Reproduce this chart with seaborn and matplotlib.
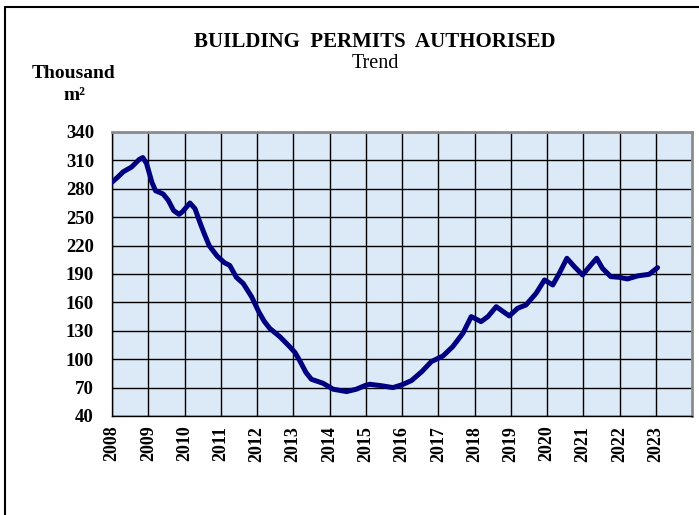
import matplotlib
matplotlib.use("Agg")
import matplotlib.pyplot as plt
import seaborn as sns
import numpy as np
import pandas as pd
from matplotlib.ticker import MultipleLocator
from matplotlib.lines import Line2D

# values (decimal year, thousand m2)
years = [2008.00, 2008.15, 2008.31, 2008.54, 2008.75, 2008.85, 2008.95, 2009.10, 2009.20,
         2009.41, 2009.55, 2009.70, 2009.85, 2009.95, 2010.15, 2010.29, 2010.42, 2010.52,
         2010.68, 2010.90, 2011.10, 2011.25, 2011.43, 2011.62, 2011.85, 2012.05, 2012.20,
         2012.35, 2012.63, 2012.90, 2013.05, 2013.20, 2013.35, 2013.50, 2013.82, 2014.10,
         2014.47, 2014.74, 2015.00, 2015.11, 2015.43, 2015.75, 2016.00, 2016.26, 2016.55,
         2016.81, 2017.13, 2017.40, 2017.68, 2017.91, 2018.18, 2018.37, 2018.60, 2018.96,
         2019.19, 2019.42, 2019.70, 2019.93, 2020.16, 2020.34, 2020.55, 2020.75, 2020.98,
         2021.17, 2021.37, 2021.53, 2021.76, 2021.99, 2022.22, 2022.50, 2022.82, 2023.05]
permits = [287, 292, 298, 303, 311, 313, 307, 287, 278,
           274.5, 268, 257, 253, 256, 265, 259, 245, 235,
           220, 209, 202, 199, 186.5, 180, 166, 150, 140,
           132.6, 123.8, 113.3, 107, 97, 86, 78.8, 74.6, 68.3,
           65.8, 68.3, 72.5, 73.5, 72, 70, 73, 77.4, 87,
           97.5, 103.4, 113.3, 127.4, 145, 139.7, 145, 155.5, 145.7,
           153.8, 157.3, 169.6, 183.7, 178.4, 190.8, 206.6, 198, 189,
           197.7, 206.6, 196, 187.2, 186.5, 184.8, 188, 189.7, 196.7]
year_labels = [str(y) for y in range(2008, 2024)]
y_ticks = list(range(40, 341, 30))

df = pd.DataFrame({"year": years, "permits": permits})

sns.set_style("white")
plt.rcParams['font.family'] = ['Liberation Serif', 'DejaVu Serif']
plt.rcParams['text.color'] = 'black'
plt.rcParams['xtick.color'] = 'black'
plt.rcParams['ytick.color'] = 'black'

fig = plt.figure(figsize=(6.99, 5.15), dpi=100)
ax = fig.add_axes([112/699, 1 - 416/515, 580/699, 284/515])
ax.set_facecolor("#dce9f7")

sns.lineplot(data=df, x="year", y="permits", ax=ax, color="#000080", linewidth=3.6,
             solid_joinstyle="round", solid_capstyle="round", zorder=5)

ax.set_xlim(2008, 2024)
ax.set_ylim(40, 340)
ax.set_xticks(range(2008, 2024))
ax.set_xticklabels(year_labels, rotation=90, fontweight="bold", fontsize=13)
ax.xaxis.set_minor_locator(MultipleLocator(0.5))
ax.set_yticks(y_ticks)
ax.set_yticklabels([str(v) for v in y_ticks], fontweight="bold", fontsize=13.5)
ax.grid(True, which="major", color="black", linewidth=1)
ax.set_axisbelow(True)
ax.tick_params(axis="x", which="major", direction="out", length=5, width=1, pad=2)
ax.tick_params(axis="y", which="major", direction="out", length=5, width=1, pad=8)
ax.tick_params(axis="x", which="minor", direction="in", length=4, width=1)
ax.set_xlabel("")
ax.set_ylabel("")

for s in ["top", "right"]:
    ax.spines[s].set_color("#8c8c8c")
    ax.spines[s].set_linewidth(2)
for s in ["left", "bottom"]:
    ax.spines[s].set_color("black")
    ax.spines[s].set_linewidth(1)

fig.text(375/699, 1 - 42/515, "BUILDING  PERMITS  AUTHORISED", ha="center", va="center",
         fontsize=15, fontweight="bold")
fig.text(375/699, 1 - 64/515, "Trend", ha="center", va="center", fontsize=14.5)
fig.text(74/699, 1 - 73/515, "Thousand", ha="center", va="center", fontsize=14, fontweight="bold")
fig.text(74/699, 1 - 96/515, "m\u00b2", ha="center", va="center", fontsize=14, fontweight="bold")

# outer frame (top and left edges visible)
fig.add_artist(Line2D([5/699, 1.0], [1 - 7/515, 1 - 7/515], color="black", linewidth=1.5))
fig.add_artist(Line2D([5/699, 5/699], [0.0, 1 - 7/515], color="black", linewidth=1.5))

plt.savefig("out.png", dpi=100)
plt.close()
